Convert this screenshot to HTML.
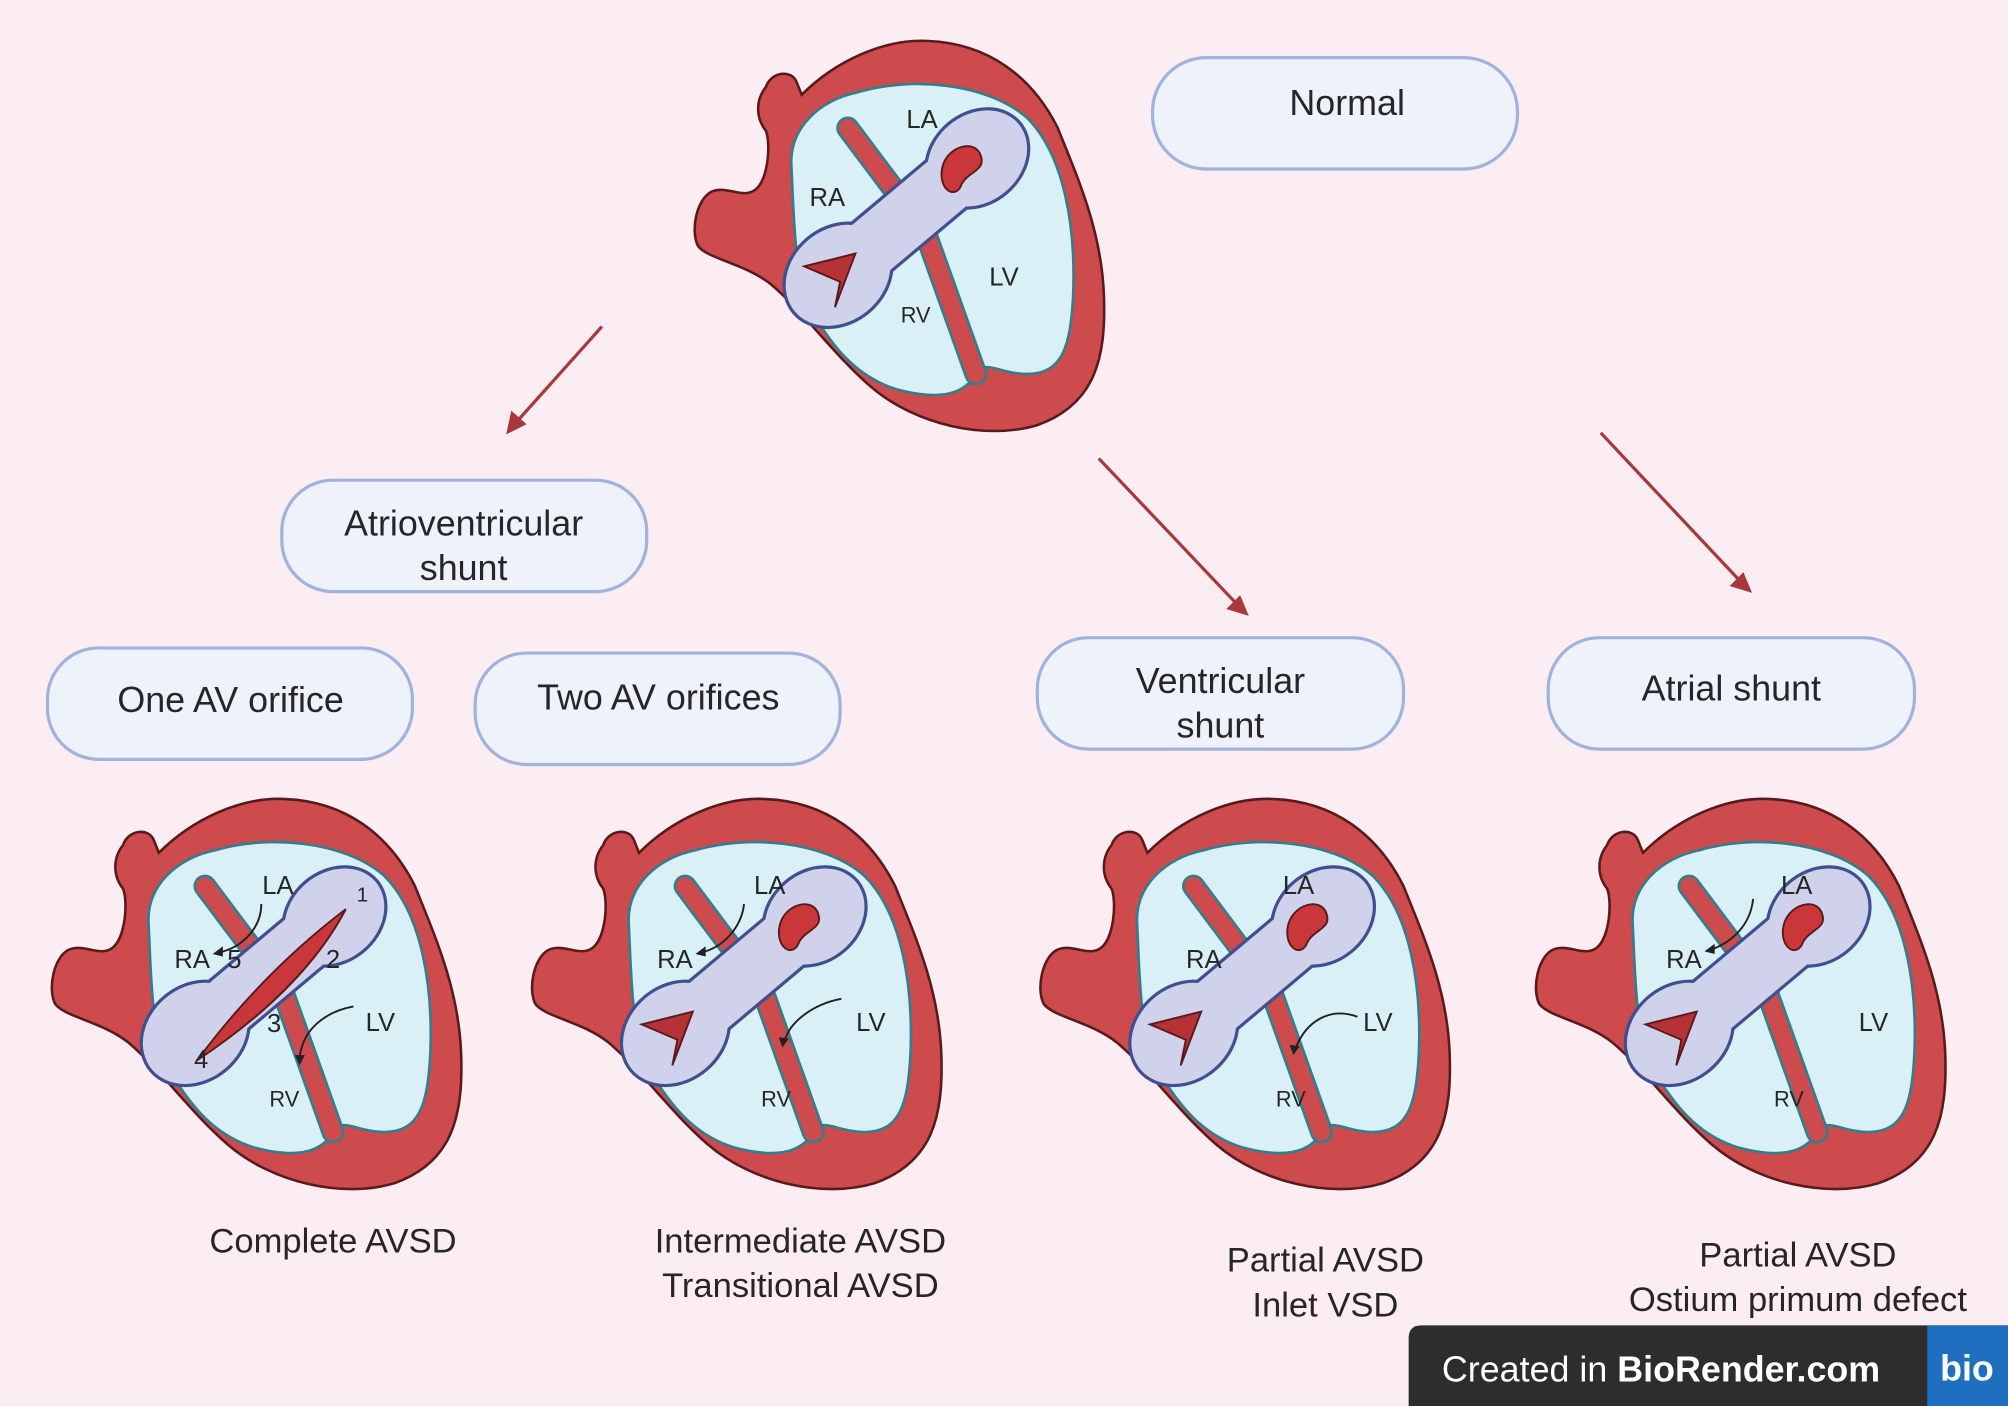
<!DOCTYPE html>
<html><head><meta charset="utf-8"><style>
html,body{margin:0;padding:0;background:#fcedf3;}
svg{display:block;}
text{font-family:"Liberation Sans",sans-serif;fill:#262626;}
</style></head><body>
<svg width="2008" height="1406" viewBox="0 0 1568 1098" xmlns="http://www.w3.org/2000/svg">
<defs>
<g id="heartbase">
<path d="M58 38 C62 26,78 24,82 34 L86 44 C112 18,150 0,185 2 C232 4,266 30,286 70 C302 110,320 150,322 200 C324 250,315 286,270 302 C230 314,175 302,140 272 C110 246,90 216,62 192 C42 176,12 172,5 162 C-1 150,4 126,15 120 C27 114,40 126,50 118 C60 110,62 82,58 72 C50 62,50 48,58 38 Z" fill="#cd4a4d" stroke="#5a1a1c" stroke-width="2"/>
<path d="M78 100 C76 70,100 48,130 42 C170 30,230 34,262 62 C292 92,300 150,298 200 C296 240,290 262,262 262 C240 262,230 250,222 262 C212 280,190 282,160 274 C128 264,110 240,95 215 C80 190,80 140,78 100 Z" fill="#d9f0f6" stroke="#2f7f8f" stroke-width="2"/>
<path d="M122 70 L182 150 L222 262" fill="none" stroke="#2f7f8f" stroke-width="18" stroke-linecap="round"/>
<path d="M122 70 L182 150 L222 262" fill="none" stroke="#cd4a4d" stroke-width="14" stroke-linecap="round"/>
</g>
<g id="ringshape">
<ellipse cx="-70" cy="0" rx="44" ry="36"/>
<ellipse cx="72" cy="0" rx="42" ry="34"/>
<rect x="-75" y="-23" width="150" height="46" rx="10"/>
</g>
<g id="ring">
<g transform="translate(168 140) rotate(-40)">
<use href="#ringshape" fill="#3f4f8f" stroke="#3f4f8f" stroke-width="5"/>
<use href="#ringshape" fill="#cfd2ea"/>
</g>
</g>
<g id="openvalves">
<path d="M88 178 L128 168 L112 210 L116 190 Z" fill="#b63236" stroke="#5a1a1c" stroke-width="1.5"/>
<path d="M196 100 C200 84,222 78,226 92 C230 104,214 104,210 116 C204 126,192 116,196 100 Z" fill="#c9373b" stroke="#5a1a1c" stroke-width="1.5"/>
</g>
</defs>

<g transform="translate(540 30)">
<use href="#heartbase"/><use href="#ring"/><use href="#openvalves"/>
<text x="180" y="70" font-size="20" text-anchor="middle">LA</text>
<text x="106" y="131" font-size="20" text-anchor="middle">RA</text>
<text x="244" y="193" font-size="20" text-anchor="middle">LV</text>
<text x="175" y="222" font-size="17" text-anchor="middle">RV</text>
</g>

<g transform="translate(38 622)">
<use href="#heartbase"/><use href="#ring"/>
<path d="M116 206 C150 160,190 120,232 88 C210 130,170 170,116 206 Z" fill="#c9373b" stroke="#5a1a1c" stroke-width="1.5"/>
<text x="179" y="76" font-size="20" text-anchor="middle">LA</text>
<text x="112" y="134" font-size="20" text-anchor="middle">RA</text>
<text x="145" y="134" font-size="20" text-anchor="middle">5</text>
<text x="222" y="134" font-size="20" text-anchor="middle">2</text>
<text x="176" y="184" font-size="20" text-anchor="middle">3</text>
<text x="119" y="212" font-size="20" text-anchor="middle">4</text>
<text x="245" y="82" font-size="16" text-anchor="middle">1</text>
<text x="259" y="183" font-size="20" text-anchor="middle">LV</text>
<text x="184" y="242" font-size="17" text-anchor="middle">RV</text>
<path d="M166 84 C166 102,152 118,132 122" fill="none" stroke="#222" stroke-width="1.5"/>
<path d="M128 123 l8 -6 l0 8 z" fill="#222"/>
<path d="M238 164 C216 168,198 182,196 204" fill="none" stroke="#222" stroke-width="1.5"/>
<path d="M196 210 l-4 -8 l8 0 z" fill="#222"/>
</g>

<g transform="translate(413 622)">
<use href="#heartbase"/><use href="#ring"/><use href="#openvalves"/>
<text x="188" y="76" font-size="20" text-anchor="middle">LA</text>
<text x="114" y="134" font-size="20" text-anchor="middle">RA</text>
<text x="267" y="183" font-size="20" text-anchor="middle">LV</text>
<text x="193" y="242" font-size="17" text-anchor="middle">RV</text>
<path d="M168 84 C166 102,152 118,134 122" fill="none" stroke="#222" stroke-width="1.5"/>
<path d="M130 123 l8 -6 l0 8 z" fill="#222"/>
<path d="M244 158 C222 162,204 176,200 190" fill="none" stroke="#222" stroke-width="1.5"/>
<path d="M198 196 l-3 -8 l8 1 z" fill="#222"/>
</g>

<g transform="translate(810 622)">
<use href="#heartbase"/><use href="#ring"/><use href="#openvalves"/>
<text x="204" y="76" font-size="20" text-anchor="middle">LA</text>
<text x="130" y="134" font-size="20" text-anchor="middle">RA</text>
<text x="266" y="183" font-size="20" text-anchor="middle">LV</text>
<text x="198" y="242" font-size="17" text-anchor="middle">RV</text>
<path d="M250 172 C228 164,210 176,202 196" fill="none" stroke="#222" stroke-width="1.5"/>
<path d="M200 202 l-3 -8 l8 1 z" fill="#222"/>
</g>

<g transform="translate(1197 622)">
<use href="#heartbase"/><use href="#ring"/><use href="#openvalves"/>
<text x="206" y="76" font-size="20" text-anchor="middle">LA</text>
<text x="118" y="134" font-size="20" text-anchor="middle">RA</text>
<text x="266" y="183" font-size="20" text-anchor="middle">LV</text>
<text x="200" y="242" font-size="17" text-anchor="middle">RV</text>
<path d="M172 80 C170 100,156 114,138 120" fill="none" stroke="#222" stroke-width="1.5"/>
<path d="M134 121 l8 -6 l0 8 z" fill="#222"/>
</g>

<g fill="#eef2fb" stroke="#9fb3dd" stroke-width="2.5">
<rect x="900" y="45" width="285" height="87" rx="42"/>
<rect x="220" y="375" width="285" height="87" rx="40"/>
<rect x="37" y="506" width="285" height="87" rx="40"/>
<rect x="371" y="510" width="285" height="87" rx="40"/>
<rect x="810" y="498" width="286" height="87" rx="40"/>
<rect x="1209" y="498" width="286" height="87" rx="40"/>
</g>
<g font-size="28" text-anchor="middle">
<text x="1052" y="90">Normal</text>
<text x="362" y="418">Atrioventricular</text>
<text x="362" y="453">shunt</text>
<text x="180" y="556">One AV orifice</text>
<text x="514" y="554">Two AV orifices</text>
<text x="953" y="541">Ventricular</text>
<text x="953" y="576">shunt</text>
<text x="1352" y="547">Atrial shunt</text>
</g>

<g stroke="#a8383c" stroke-width="2.5" fill="#a8383c">
<line x1="470" y1="255" x2="402" y2="331"/>
<path d="M397 337 l3 -14 l9 8 z"/>
<line x1="858" y1="358" x2="967" y2="473"/>
<path d="M973 479 l-13 -4 l8 -8 z"/>
<line x1="1250" y1="338" x2="1360" y2="455"/>
<path d="M1366 461 l-13 -4 l8 -8 z"/>
</g>

<g font-size="27" text-anchor="middle">
<text x="260" y="978">Complete AVSD</text>
<text x="625" y="978">Intermediate AVSD</text>
<text x="625" y="1013">Transitional AVSD</text>
<text x="1035" y="993">Partial AVSD</text>
<text x="1035" y="1028">Inlet VSD</text>
<text x="1404" y="989">Partial AVSD</text>
<text x="1404" y="1024">Ostium primum defect</text>
</g>

<path d="M1100 1098 L1100 1045 Q1100 1035 1110 1035 L1568 1035 L1568 1098 Z" fill="#2d2d2d"/>
<rect x="1505" y="1035" width="63" height="63" fill="#1f6fc0"/>
<text x="1126" y="1079" font-size="28" style="fill:#fff">Created in <tspan font-weight="bold" style="fill:#fff">BioRender.com</tspan></text>
<text x="1536" y="1078" font-size="28" font-weight="bold" text-anchor="middle" style="fill:#fff">bio</text>
</svg>
</body></html>
